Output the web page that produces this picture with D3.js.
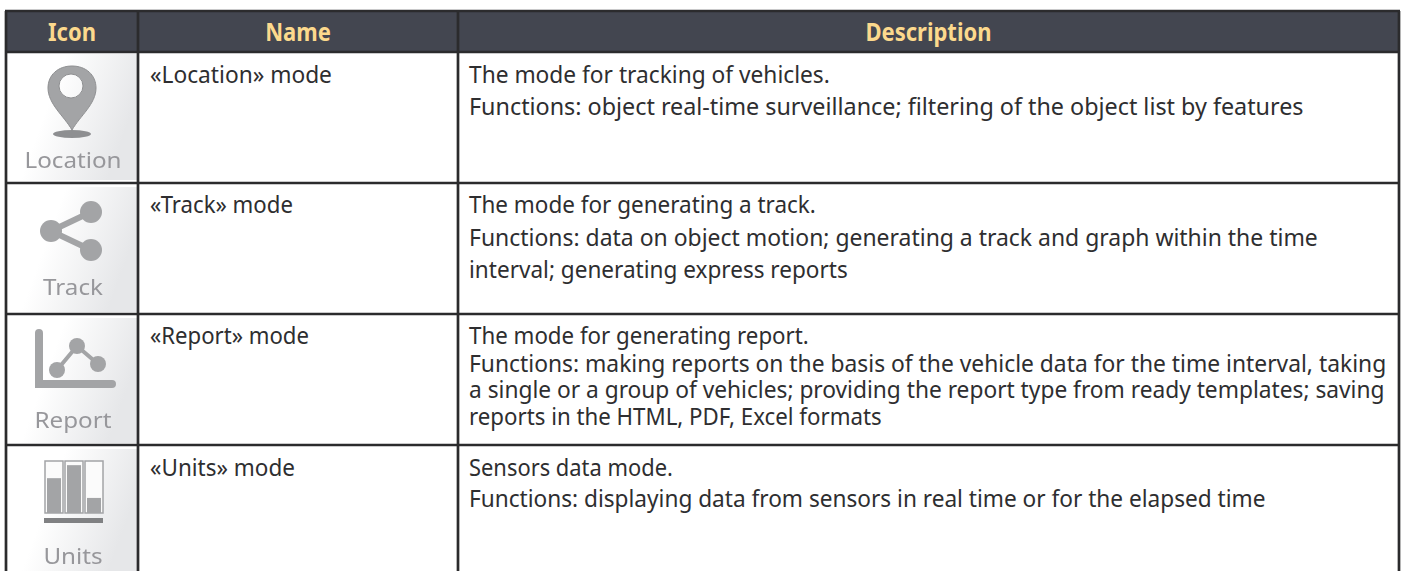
<!DOCTYPE html>
<html>
<head>
<meta charset="utf-8">
<title>Modes</title>
<script src="https://cdn.jsdelivr.net/npm/d3@7"></script>
<style>
	html, body { margin: 0; padding: 0; background: #fff; overflow: hidden; }
	text { font-family: "Noto Sans", sans-serif; }
</style>
</head>
<body>
<div id="view"></div>
<script>
// table content
var columns = ["Icon", "Name", "Description"];
var icons = ["Location", "Track", "Report", "Units"];
var names = ["«Location» mode", "«Track» mode", "«Report» mode", "«Units» mode"];
var descriptions = [
	["The mode for tracking of vehicles.",
	 "Functions: object real-time surveillance; filtering of the object list by features"],
	["The mode for generating a track.",
	 "Functions: data on object motion; generating a track and graph within the time",
	 "interval; generating express reports"],
	["The mode for generating report.",
	 "Functions: making reports on the basis of the vehicle data for the time interval, taking",
	 "a single or a group of vehicles; providing the report type from ready templates; saving",
	 "reports in the HTML, PDF, Excel formats"],
	["Sensors data mode.",
	 "Functions: displaying data from sensors in real time or for the elapsed time"]
];
var unitLevels = [0.67, 0.92, 0.29];

// layout
var width = 1405, height = 571;
var colEdges = [6, 138, 458, 1399];
var rowEdges = [52, 183, 314, 445, 576];
var headTop = 11;
// baseline of each description line, counted from the top of its row
var lineOffsets = [
	[31, 63],
	[30, 63, 95],
	[30, 58, 84, 111],
	[31, 62]
];
// right end of each description line, the reference face is narrower than Noto
var lineEnds = [
	[830, 1304],
	[816, 1318, 848],
	[809, 1387, 1385, 882],
	[673, 1266]
];
var nameOffsets = [31, 30, 30, 31];
var nameEnds = [332, 293, 309, 295];

var line_color = "#2b2b2d";
var svg = d3.select("#view").append("svg")
	.attr("width", width)
	.attr("height", height)
	.style("display", "block");

var defs = svg.append("defs");
var grad = defs.append("linearGradient").attr("id", "cellGrad")
	.attr("x1", "0").attr("y1", "0").attr("x2", "1").attr("y2", "0.35");
grad.append("stop").attr("offset", "0.4").attr("stop-color", "#ffffff");
grad.append("stop").attr("offset", "1").attr("stop-color", "#e6e7e9");
defs.append("filter").attr("id", "soft")
	.append("feGaussianBlur").attr("stdDeviation", 0.6);

// header band
svg.append("rect")
	.attr("x", colEdges[0]).attr("y", headTop)
	.attr("width", colEdges[3] - colEdges[0]).attr("height", rowEdges[0] - headTop)
	.attr("fill", "#434650");

// icon cell backgrounds
svg.selectAll("rect.cell").data(icons).enter().append("rect")
	.attr("class", "cell")
	.attr("x", colEdges[0] + 2)
	.attr("y", function(d, i) { return rowEdges[i] + (i ? 4 : 2); })
	.attr("width", colEdges[1] - colEdges[0] - 3)
	.attr("height", function(d, i) { return rowEdges[i + 1] - rowEdges[i] - (i ? 6 : 5); })
	.attr("fill", "url(#cellGrad)");

// grid lines
svg.append("line")
	.attr("x1", colEdges[0] - 1).attr("x2", colEdges[3] + 1)
	.attr("y1", headTop).attr("y2", headTop)
	.attr("stroke", line_color).attr("stroke-width", 2.7);
svg.selectAll("line.row").data(rowEdges.slice(0, 4)).enter().append("line")
	.attr("class", "row")
	.attr("x1", colEdges[0] - 1).attr("x2", colEdges[3] + 1)
	.attr("y1", function(d) { return d; }).attr("y2", function(d) { return d; })
	.attr("stroke", line_color).attr("stroke-width", 2.7);
svg.selectAll("line.col").data(colEdges).enter().append("line")
	.attr("class", "col")
	.attr("x1", function(d) { return d; }).attr("x2", function(d) { return d; })
	.attr("y1", headTop).attr("y2", height)
	.attr("stroke", line_color).attr("stroke-width", 2.7);

// place a text and stretch it in x only, factor may be a function of the measured length
function place(node, x, y, factor) {
	var f = (typeof factor == "function") ? factor(node.getComputedTextLength()) : factor;
	d3.select(node).attr("transform", "translate(" + x + "," + y + ") scale(" + f + ",1)");
}

// header labels
svg.selectAll("text.head").data(columns).enter().append("text")
	.attr("class", "head")
	.attr("text-anchor", "middle")
	.attr("font-size", 25)
	.attr("font-weight", 700)
	.attr("fill", "#fcd98d")
	.text(function(d) { return d; })
	.each(function(d, i) { place(this, (colEdges[i] + colEdges[i + 1]) / 2, 41, 0.88); });

// name column
var nameX = colEdges[1] + 12;
svg.selectAll("text.name").data(names).enter().append("text")
	.attr("class", "name")
	.attr("font-size", 24)
	.attr("fill", "#2e2e30")
	.text(function(d) { return d; })
	.each(function(d, i) {
		place(this, nameX, rowEdges[i] + nameOffsets[i], function(w) { return (nameEnds[i] - nameX) / w; });
	});

// description column
var descX = colEdges[2] + 11;
descriptions.forEach(function(lines, r) {
	svg.selectAll("text.desc" + r).data(lines).enter().append("text")
		.attr("class", "desc" + r)
		.attr("font-size", 24)
		.attr("fill", "#2e2e30")
		.text(function(d) { return d; })
		.each(function(d, i) {
			place(this, descX, rowEdges[r] + lineOffsets[r][i], function(w) { return (lineEnds[r][i] - descX) / w; });
		});
});

// icon labels
var labelBase = [168, 295, 428, 564];
var iconGroup = svg.append("g").attr("filter", "url(#soft)");
iconGroup.selectAll("text").data(icons).enter().append("text")
	.attr("text-anchor", "middle")
	.attr("font-size", 22)
	.attr("fill", "#97979b")
	.text(function(d) { return d; })
	.each(function(d, i) { place(this, 73, labelBase[i], 1.1); });

var gray = "#a3a4a6";

// location pin
iconGroup.append("path")
	.attr("d", "M72,66 C58,66 48,75 48,88 C48,104 64,116 72,130 C80,116 96,104 96,88 C96,75 86,66 72,66 Z M71,74 A12,12 0 1 1 71,98 A12,12 0 1 1 71,74 Z")
	.attr("fill", gray).attr("fill-rule", "evenodd").attr("stroke", "#8e8f91");
iconGroup.append("ellipse")
	.attr("cx", 72).attr("cy", 134).attr("rx", 19).attr("ry", 4)
	.attr("fill", "#8e8f91");

// share icon
var trackPts = [[91, 212], [51, 231], [91, 250]];
iconGroup.append("path")
	.attr("d", d3.line()(trackPts))
	.attr("fill", "none").attr("stroke", gray).attr("stroke-width", 6);
iconGroup.selectAll("circle.track").data(trackPts).enter().append("circle")
	.attr("class", "track")
	.attr("cx", function(d) { return d[0]; }).attr("cy", function(d) { return d[1]; })
	.attr("r", 11).attr("fill", gray);

// report icon
var reportPts = [[57, 370], [77, 346], [98, 364]];
iconGroup.append("path")
	.attr("d", "M39,333 V384 H112")
	.attr("fill", "none").attr("stroke", gray).attr("stroke-width", 8).attr("stroke-linecap", "round");
iconGroup.append("path")
	.attr("d", d3.line()(reportPts))
	.attr("fill", "none").attr("stroke", gray).attr("stroke-width", 4);
iconGroup.selectAll("circle.rep").data(reportPts).enter().append("circle")
	.attr("class", "rep")
	.attr("cx", function(d) { return d[0]; }).attr("cy", function(d) { return d[1]; })
	.attr("r", 8).attr("fill", gray);

// units icon
var barX = d3.scaleBand().domain(d3.range(unitLevels.length)).range([45, 103]).paddingInner(0.1);
var barY = d3.scaleLinear().domain([0, 1]).range([513, 461]);
iconGroup.selectAll("rect.box").data(unitLevels).enter().append("rect")
	.attr("class", "box")
	.attr("x", function(d, i) { return barX(i); })
	.attr("y", barY(1))
	.attr("width", barX.bandwidth())
	.attr("height", barY(0) - barY(1))
	.attr("fill", "#fbfbfb").attr("stroke", gray).attr("stroke-width", 1.5);
iconGroup.selectAll("rect.level").data(unitLevels).enter().append("rect")
	.attr("class", "level")
	.attr("x", function(d, i) { return barX(i) + 2; })
	.attr("y", function(d) { return barY(d); })
	.attr("width", barX.bandwidth() - 4)
	.attr("height", function(d) { return barY(0) - barY(d); })
	.attr("fill", gray);
iconGroup.append("rect")
	.attr("x", 44).attr("y", 518).attr("width", 59).attr("height", 5)
	.attr("fill", "#808183");
</script>
</body>
</html>
